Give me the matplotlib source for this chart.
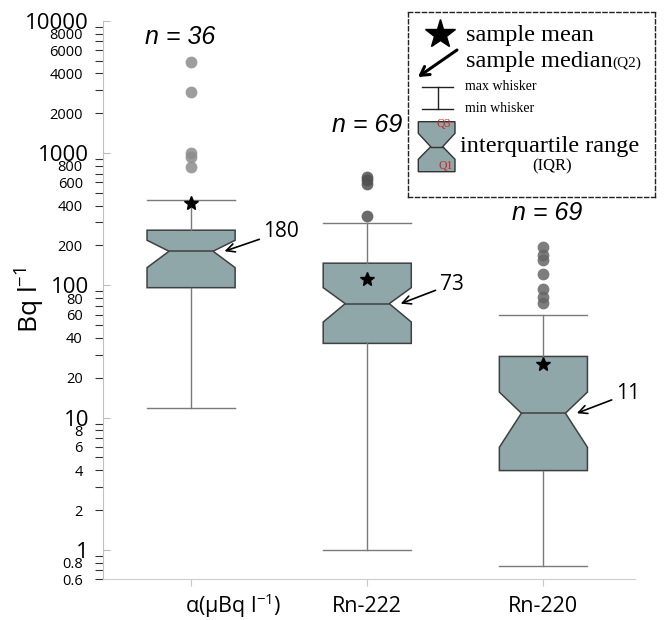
import numpy as np
import matplotlib
matplotlib.use('Agg')
import matplotlib.pyplot as plt
from matplotlib.ticker import LogLocator, FuncFormatter
from matplotlib.patches import Polygon
from matplotlib.transforms import ScaledTranslation


# box statistics (Bq/l, log axis)
labels = [r'α(μBq l$^{-1}$)', 'Rn-222', 'Rn-220']
n_counts = [36, 69, 69]
q1 = [96, 36.4, 3.98]
medians = [181, 72.7, 10.8]
q3 = [261, 147, 29]
whislo = [11.9, 1.0, 0.76]
whishi = [445, 296, 60]
means = [422, 111, 25.3]
cilo = [136, 52.8, 5.97]
cihi = [219, 96, 15.6]
fliers = [[4900, 2870, 993, 935, 786],
          [660, 623, 588, 334],
          [195, 169, 155, 121, 93, 81, 73]]
median_labels = ['180', '73', '11']

# where the "n = .." texts sit (x offset from box, y in data units)
n_label_dx = [-0.06, 0, 0.02]
n_label_y = [7570, 1625, 351]

box_color = '#8fa7a9'
flier_colors = ['#8c8c8c', '#505050', '#666666']

plt.rcParams['font.family'] = ['Open Sans', 'DejaVu Sans']
plt.rcParams['mathtext.fontset'] = 'custom'
plt.rcParams['mathtext.rm'] = 'Open Sans'
plt.rcParams['mathtext.it'] = 'Open Sans:italic'
plt.rcParams['mathtext.sf'] = 'Open Sans'

fig = plt.figure(figsize=(6.66, 6.2), dpi=100)
fig.patch.set_facecolor('white')
ax = fig.add_axes([103/666, 1-579.3/620, 532/666, 558.6/620])
ax.set_yscale('log')

stats = []
for i in range(len(labels)):
    stats.append(dict(label=labels[i], q1=q1[i], med=medians[i], q3=q3[i],
                      whislo=whislo[i], whishi=whishi[i], mean=means[i],
                      cilo=cilo[i], cihi=cihi[i], fliers=fliers[i]))

positions = [1, 2, 3]
bp = ax.bxp(stats, positions=positions, widths=0.5, capwidths=0.5,
            shownotches=True, showmeans=True, patch_artist=True,
            boxprops=dict(facecolor=box_color, edgecolor='#404040', linewidth=1.1),
            whiskerprops=dict(color='#7a7a7a', linewidth=1),
            capprops=dict(color='#7a7a7a', linewidth=1),
            medianprops=dict(color='#404040', linewidth=1.1),
            meanprops=dict(marker='*', markerfacecolor='k', markeredgecolor='k', markersize=10),
            flierprops=dict(marker='o', markersize=8.5, markeredgecolor='none', alpha=0.85))
for fl, c in zip(bp['fliers'], flier_colors):
    fl.set_markerfacecolor(c)

ax.set_xlim(0.5, 3.52)
ax.set_ylim(0.6, 10000)

# spines
for s in ['top', 'right']:
    ax.spines[s].set_visible(False)
ax.spines['left'].set_color('#c0c0c0')
ax.spines['bottom'].set_color('#cccccc')

# y ticks: major inside (grey), minor outside (dark) with 2/4/6/8 labels
ax.yaxis.set_major_locator(LogLocator(base=10, numticks=20))
ax.yaxis.set_minor_locator(LogLocator(base=10, subs=np.arange(2, 10), numticks=50))
ax.yaxis.set_major_formatter(FuncFormatter(lambda v, p: '%g' % v))


def minor_fmt(v, p):
    lead = int(round(v / 10 ** np.floor(np.log10(v) + 1e-9)))
    if lead in (2, 4, 6, 8):
        return '%g' % v
    return ''


ax.yaxis.set_minor_formatter(FuncFormatter(minor_fmt))
ax.tick_params(axis='y', which='major', direction='in', length=5, width=0.8,
               color='#bdbdbd', labelsize=16, pad=10)
ax.tick_params(axis='y', which='minor', direction='out', length=6, width=0.8,
               color='#333333', labelsize=10.5, pad=8.5)
ax.tick_params(axis='x', which='major', direction='out', length=5, width=0.8,
               color='#c8c8c8', labelsize=15.5, pad=7)

# the alpha label is shifted right (and its superscript pushes it down) in matplotlib
lab0 = ax.xaxis.get_major_ticks()[0].label1
lab0.set_transform(lab0.get_transform() + ScaledTranslation(0.42, 0.05, fig.dpi_scale_trans))

ax.set_ylabel(r'Bq l$^{-1}$', fontsize=19)
ax.yaxis.set_label_coords(-0.105, 0.5)

# n = .. labels
for pos, dx, n, y in zip(positions, n_label_dx, n_counts, n_label_y):
    ax.text(pos + dx, y, 'n = %d' % n, family='Liberation Sans', style='italic',
            fontsize=18, ha='center', va='center')

# median arrows
for pos, m, txt in zip(positions, medians, median_labels):
    ax.annotate(txt, xy=(pos + 0.19, m), xytext=(28, 14), textcoords='offset points',
                ha='left', va='center', fontsize=15,
                arrowprops=dict(arrowstyle='->', color='k', lw=1.2, shrinkA=1, shrinkB=0))

# hand drawn key in the top right corner
serif = 'Liberation Serif'
lax = fig.add_axes([408/666, 1-197/620, 247/666, 185/620])
lax.set_xlim(0, 247)
lax.set_ylim(185, 0)
lax.set_xticks([])
lax.set_yticks([])
for s in lax.spines.values():
    s.set_linestyle((0, (3, 2)))
    s.set_linewidth(1)
    s.set_edgecolor('#222222')

lax.plot(32, 21.5, marker='*', ms=22, color='k')
lax.text(58, 23, 'sample mean', family=serif, fontsize=17.5, va='center')
t = lax.text(58, 50, 'sample median', family=serif, fontsize=17.5, va='center')
lax.annotate('(Q2)', xy=(1, 0.45), xycoords=t, family=serif, fontsize=11, va='center')
lax.annotate('', xy=(10, 65), xytext=(49, 38),
             arrowprops=dict(arrowstyle='->,head_length=0.6,head_width=0.35', lw=2.2,
                             color='k', shrinkA=0, shrinkB=0))

lax.plot([13.7, 45.3], [75.3, 75.3], color='#222222', lw=1)
lax.plot([29.5, 29.5], [75.3, 97.3], color='#222222', lw=1)
lax.plot([13.7, 45.3], [97.3, 97.3], color='#222222', lw=1)
lax.text(57, 74, 'max whisker', family=serif, fontsize=10, va='center')
lax.text(57, 96.5, 'min whisker', family=serif, fontsize=10, va='center')

verts = [(10.3, 109.7), (47, 109.7), (47, 121.3), (34.7, 134.7), (47, 147.3), (47, 159.7),
         (10.3, 159.7), (10.3, 147.3), (22.7, 134.7), (10.3, 121.3)]
lax.add_patch(Polygon(verts, closed=True, fc=box_color, ec='#333333', lw=1))
lax.plot([22.7, 34.7], [134.7, 134.7], color='#333333', lw=1)
lax.text(36, 112, 'Q3', color='#d62020', family=serif, fontsize=8.5, ha='center', va='center')
lax.text(38, 154, 'Q1', color='#d62020', family=serif, fontsize=8.5, ha='center', va='center')
lax.text(52, 134.7, 'interquartile range', family=serif, fontsize=17.5, va='center')
lax.text(143.7, 154.7, '(IQR)', family=serif, fontsize=12, ha='center', va='center')

fig.savefig('out.png', dpi=100)
